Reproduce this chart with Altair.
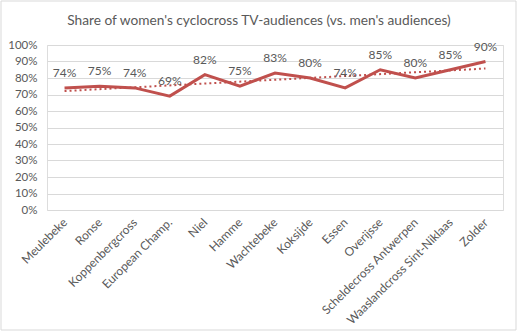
import altair as alt
import pandas as pd

races = ["Meulebeke", "Ronse", "Koppenbergcross", "European Champ.", "Niel", "Hamme",
         "Wachtebeke", "Koksijde", "Essen", "Overijsse", "Scheldecross Antwerpen",
         "Waaslandcross Sint-Niklaas", "Zolder"]
shares = [0.74, 0.75, 0.74, 0.69, 0.82, 0.75, 0.83, 0.80, 0.74, 0.85, 0.80, 0.85, 0.90]
title_text = "Share of women's cyclocross TV-audiences (vs. men's audiences)"

df = pd.DataFrame({"idx": list(range(len(races))), "race": races, "share": shares})

FONT = "Lato"
RED = "#C0504D"
GREY = "#595959"

names_js = "[" + ",".join('"' + r + '"' for r in races) + "]"

x = alt.X("idx:Q",
          scale=alt.Scale(domain=[-0.5, len(races) - 0.5], nice=False, zero=False),
          axis=alt.Axis(values=list(range(len(races))), labelExpr=names_js + "[datum.value]",
                        labelAngle=-45, labelAlign="right", labelBaseline="middle",
                        labelOverlap=False, labelBound=False, labelFlush=False,
                        labelFont=FONT, labelFontSize=12, labelColor=GREY,
                        ticks=False, domain=False, grid=False, title=None, labelPadding=10))
y = alt.Y("share:Q",
          scale=alt.Scale(domain=[0, 1], nice=False),
          axis=alt.Axis(values=[i / 10 for i in range(11)], format=".0%",
                        labelFont=FONT, labelFontSize=11.5, labelColor=GREY,
                        ticks=False, domain=False, gridColor="#D9D9D9", title=None,
                        labelPadding=10))

base = alt.Chart(df)

line = base.mark_line(color=RED, strokeWidth=3).encode(x=x, y=y)
trend = base.transform_regression("idx", "share", extent=[0, len(races) - 1]).mark_line(
    color=RED, strokeWidth=2, strokeDash=[2, 3]).encode(x=x, y=y)
labels = base.mark_text(baseline="bottom", dy=-8, font=FONT, fontSize=12, color=GREY).encode(
    x=x, y=y, text=alt.Text("share:Q", format=".0%"))
border = alt.Chart(pd.DataFrame({"a": [0]})).mark_rect(fill=None, stroke="#D9D9D9", strokeWidth=1).encode(
    x=alt.value(-46), x2=alt.value(469), y=alt.value(-44), y2=alt.value(285))
title = alt.Chart(pd.DataFrame({"t": [title_text]})).mark_text(
    font=FONT, fontSize=13.7, color=GREY, align="center", baseline="middle").encode(
    text="t:N", x=alt.value(212), y=alt.value(-24))

chart = alt.layer(border, trend, line, labels, title).properties(
    width=456, height=165,
    autosize=alt.AutoSizeParams(type="none"),
    padding={"left": 47, "top": 45, "right": 15, "bottom": 122},
).configure_view(stroke=None).configure(background="white")

chart.save("out.html", embed_options={"renderer": "svg", "actions": False})
